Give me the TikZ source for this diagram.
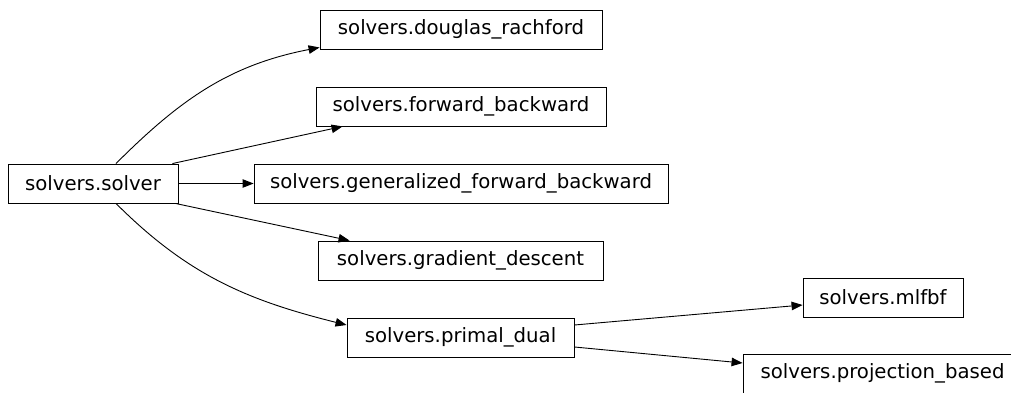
\documentclass[tikz,border=0pt]{standalone}
\usepackage{fontspec}
\setmainfont{DejaVu Sans}
\usetikzlibrary{arrows.meta}
\tikzset{
  modbox/.style={draw, line width=0.9pt, minimum height=39pt, inner sep=0pt,
    font=\fontsize{19.7}{24}\selectfont},
  dep/.style={line width=0.9pt, -{Triangle[length=11pt,width=8.5pt]}}
}
\begin{document}
\begin{tikzpicture}[x=1pt,y=1pt]
\useasboundingbox (0,0) rectangle (1011,392);
\node[modbox, minimum width=170pt] (solver) at (93, 208.5) {solvers.solver};
\node[modbox, minimum width=282pt] (douglas) at (461, 362.5) {solvers.douglas\_rachford};
\node[modbox, minimum width=290pt] (forward) at (461, 285.5) {solvers.forward\_backward};
\node[modbox, minimum width=414pt] (general) at (461, 208.5) {solvers.generalized\_forward\_backward};
\node[modbox, minimum width=285pt] (gradient) at (460.5, 131.5) {solvers.gradient\_descent};
\node[modbox, minimum width=227pt] (primal) at (460.5, 54.5) {solvers.primal\_dual};
\node[modbox, minimum width=160pt] (mlfbf) at (883, 94.5) {solvers.mlfbf};
\node[modbox, minimum width=279pt] (projection) at (882.5, 18.5) {solvers.projection\_based};
\draw[dep] ([xshift=23pt]solver.north) to[out=45, in=191] ([yshift=2pt]douglas.south west);
\draw[dep] ([xshift=-6pt]solver.north east) -- ([xshift=27pt]forward.south west);
\draw[dep] (solver.east) -- (general.west);
\draw[dep] ([xshift=-3pt]solver.south east) -- ([xshift=32pt]gradient.north west);
\draw[dep] ([xshift=23pt]solver.south) to[out=-45, in=166] ([yshift=12.5pt]primal.west);
\draw[dep] ([yshift=12.5pt]primal.east) -- ([yshift=-7.5pt]mlfbf.west);
\draw[dep] ([yshift=-9.5pt]primal.east) -- ([yshift=10.5pt]projection.west);
\end{tikzpicture}
\end{document}
